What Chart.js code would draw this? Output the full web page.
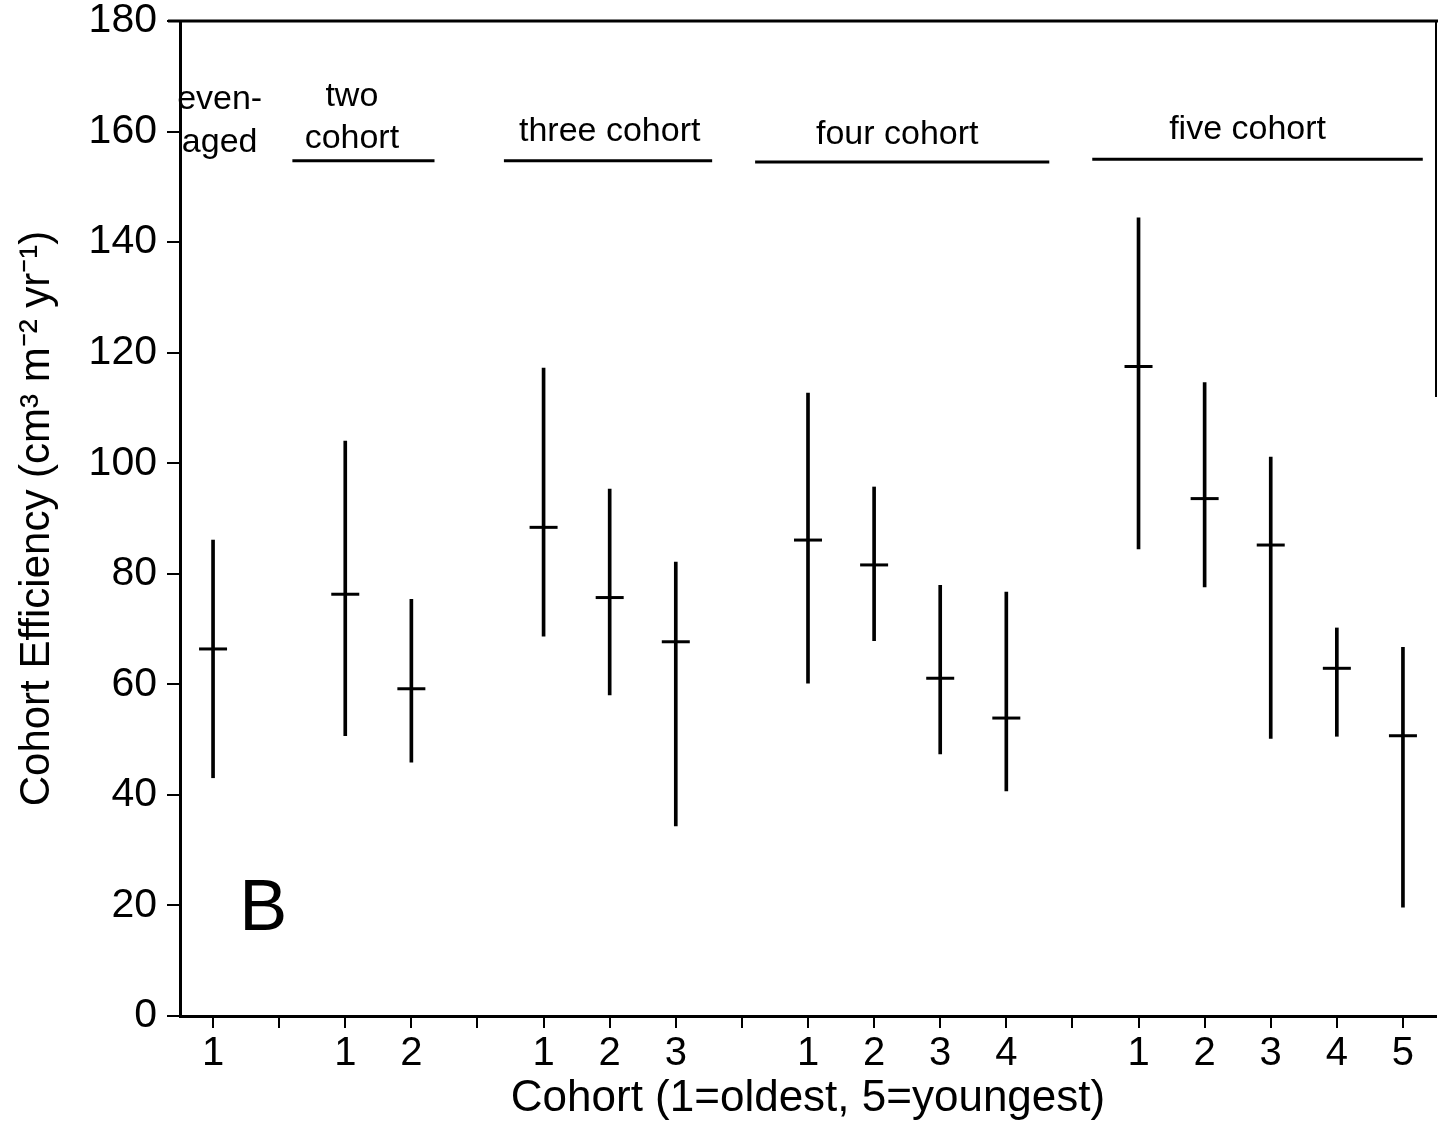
<!DOCTYPE html>
<html lang="en">
<head>
    <meta charset="UTF-8">
    <title>Cohort Efficiency</title>
    <script src="https://cdn.jsdelivr.net/npm/chart.js"></script>
    <style>
        html, body { margin: 0; background: #fff; overflow: hidden; }
        canvas { display: block; }
    </style>
</head>
<body>
    <canvas id="myChart" width="1438" height="1127"></canvas>

    <script>
        // x positions: one slot per cohort, empty slot between stand types
        const categories = ['1', '', '1', '2', '', '1', '2', '3', '', '1', '2', '3', '4', '', '1', '2', '3', '4', '5'];
        const means = [66.4, null, 76.3, 59.2, null, 88.4, 75.7, 67.7, null, 86.1, 81.6, 61.1, 53.9, null, 117.5, 93.6, 85.2, 62.9, 50.7];
        const upper = [86.1, null, 104.0, 75.4, null, 117.2, 95.3, 82.1, null, 112.7, 95.7, 77.9, 76.7, null, 144.4, 114.6, 101.1, 70.2, 66.7];
        const lower = [43.1, null, 50.7, 45.9, null, 68.7, 58.1, 34.4, null, 60.2, 67.9, 47.4, 40.7, null, 84.5, 77.6, 50.2, 50.6, 19.7];
        const groupNames = [['even-', 'aged'], ['two', 'cohort'], ['three cohort'], ['four cohort'], ['five cohort']];
        const panelLetter = 'B';

        const FONT = '"Liberation Sans", Arial, Helvetica, sans-serif';
        Chart.defaults.font.family = FONT;
        Chart.defaults.color = '#000';

        // where the group headings sit (x in slot units, y in data units)
        const groupPos = [
            { x: 0.1, y: [165.8, 158.0], line: null },
            { x: 2.1, y: [166.4, 158.8], line: [1.2, 3.35, 154.7] },
            { x: 6.0, y: [160.0], line: [4.4, 7.55, 154.7] },
            { x: 10.35, y: [159.4], line: [8.2, 12.65, 154.5] },
            { x: 15.65, y: [160.4], line: [13.3, 18.3, 155.0] }
        ];

        const bars = upper.map((u, i) => u === null ? null : [lower[i], u]);

        const decor = {
            id: 'decor',
            afterDraw(chart) {
                const { ctx, chartArea, scales: { x, y } } = chart;
                ctx.save();
                ctx.strokeStyle = '#000';
                ctx.fillStyle = '#000';
                // top frame and faint right edge
                ctx.lineWidth = 3;
                ctx.beginPath();
                ctx.moveTo(chartArea.left - 12, chartArea.top);
                ctx.lineTo(chartArea.right + 2, chartArea.top);
                ctx.stroke();
                ctx.lineWidth = 2;
                ctx.beginPath();
                ctx.moveTo(chartArea.right, chartArea.top);
                ctx.lineTo(chartArea.right, y.getPixelForValue(112));
                ctx.stroke();

                ctx.font = '34px ' + FONT;
                ctx.textAlign = 'center';
                ctx.textBaseline = 'middle';
                groupNames.forEach((lines, g) => {
                    const p = groupPos[g];
                    lines.forEach((t, k) => {
                        ctx.fillText(t, x.getPixelForValue(p.x), y.getPixelForValue(p.y[k]));
                    });
                    if (p.line) {
                        const ly = y.getPixelForValue(p.line[2]);
                        ctx.lineWidth = 3;
                        ctx.beginPath();
                        ctx.moveTo(x.getPixelForValue(p.line[0]), ly);
                        ctx.lineTo(x.getPixelForValue(p.line[1]), ly);
                        ctx.stroke();
                    }
                });

                ctx.font = '72px ' + FONT;
                ctx.fillText(panelLetter, x.getPixelForValue(0.76), y.getPixelForValue(19.2));
                ctx.restore();
            }
        };

        new Chart(document.getElementById('myChart'), {
            type: 'bar',
            data: {
                labels: categories,
                datasets: [
                    {
                        type: 'line',
                        data: means,
                        showLine: false,
                        pointStyle: 'line',
                        pointRadius: 14,
                        pointBorderWidth: 3,
                        borderColor: '#000',
                        backgroundColor: '#000'
                    },
                    {
                        data: bars,
                        backgroundColor: '#000',
                        barThickness: 3,
                        borderSkipped: false
                    }
                ]
            },
            options: {
                responsive: false,
                animation: false,
                layout: { autoPadding: false, padding: { top: 21, right: 2, left: 0, bottom: 0 } },
                plugins: { legend: { display: false }, tooltip: { enabled: false } },
                scales: {
                    x: {
                        offset: true,
                        grid: { offset: false, drawOnChartArea: false, tickLength: 12, color: '#000', lineWidth: 2 },
                        border: { color: '#000', width: 3 },
                        ticks: { font: { size: 40 }, color: '#000', padding: 2, maxRotation: 0, autoSkip: false },
                        title: {
                            display: true,
                            text: 'Cohort (1=oldest, 5=youngest)',
                            font: { size: 44 },
                            color: '#000',
                            padding: { top: 0, bottom: 2 }
                        },
                        afterFit(s) {
                            s.height = 111;
                            s.paddingLeft = 0;
                            s.paddingRight = 0;
                        }
                    },
                    y: {
                        min: 0,
                        max: 180,
                        ticks: { stepSize: 20, font: { size: 41 }, color: '#000', padding: 10 },
                        grid: { drawOnChartArea: false, tickLength: 13, color: '#000', lineWidth: 2 },
                        border: { color: '#000', width: 3 },
                        title: {
                            display: true,
                            text: 'Cohort Efficiency (cm³ m⁻² yr⁻¹)',
                            font: { size: 42 },
                            color: '#000',
                            padding: { top: 12, bottom: 0 }
                        },
                        afterFit(s) {
                            s.width = 180;
                            s.paddingTop = 0;
                            s.paddingBottom = 0;
                        }
                    }
                }
            },
            plugins: [decor]
        });
    </script>
</body>
</html>
